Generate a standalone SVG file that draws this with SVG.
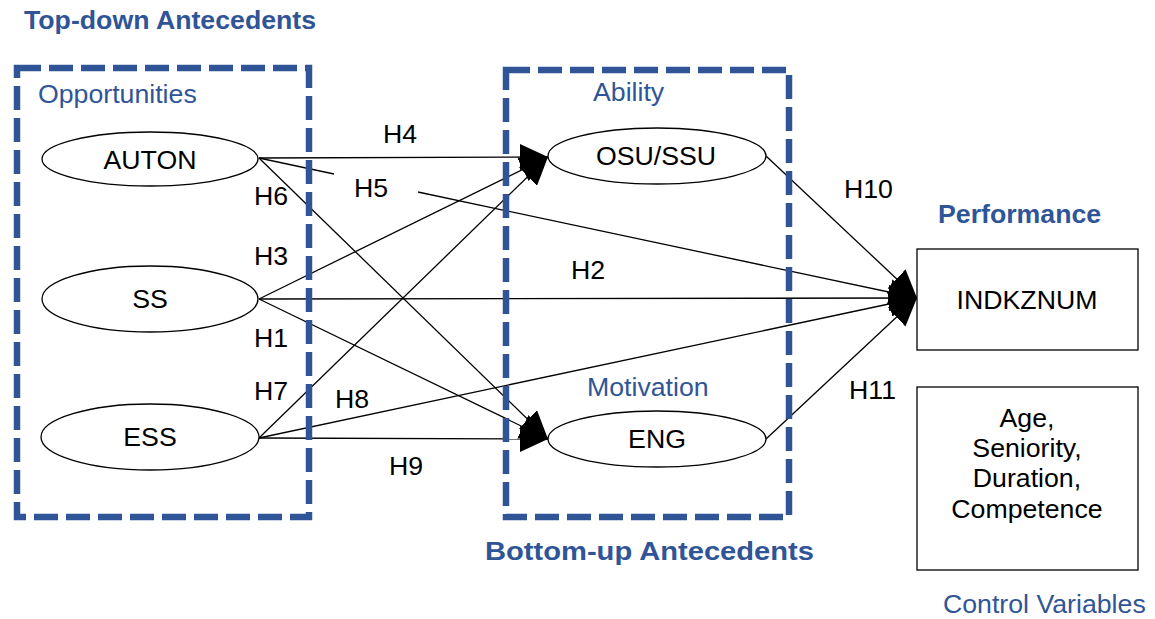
<svg xmlns="http://www.w3.org/2000/svg" width="1155" height="619" viewBox="0 0 1155 619">
  <style>
    text { font-family: "Liberation Sans", Arial, sans-serif; font-size: 26.7px; fill: #000; }
    .title { fill: #2F5597; font-weight: bold; }
    .group-label { fill: #2F5597; }
    .node-label { text-anchor: middle; }
    .frame { fill: none; stroke: #2F5597; stroke-width: 6.5; stroke-dasharray: 24 8; }
    .construct { fill: #fff; stroke: #000; stroke-width: 1.3; }
    .box { fill: #fff; stroke: #000; stroke-width: 1.3; }
    .link { fill: none; stroke: #000; stroke-width: 1.3; }
    .arrow { marker-end: url(#head); }
  </style>
  <defs>
    <marker id="head" viewBox="0 0 28 26" refX="28" refY="13" markerWidth="28" markerHeight="26" markerUnits="userSpaceOnUse" orient="auto">
      <path d="M0,0 L28,13 L0,26 z" fill="#000"/>
    </marker>
  </defs>

  <!-- Section headings -->
  <text class="title" x="24" y="29">Top-down Antecedents</text>
  <text class="title" x="485" y="560" textLength="329" lengthAdjust="spacingAndGlyphs">Bottom-up Antecedents</text>
  <text class="title" x="938" y="223">Performance</text>
  <text class="group-label" x="943" y="613">Control Variables</text>

  <!-- Hypothesised paths -->
  <g id="connectors">
    <line class="link arrow" x1="259" y1="158" x2="548" y2="157"/>
    <line class="link" x1="259" y1="158" x2="334" y2="174"/>
    <line class="link arrow" x1="418" y1="192" x2="917" y2="298"/>
    <line class="link arrow" x1="259" y1="158" x2="548" y2="439"/>
    <line class="link arrow" x1="259" y1="299" x2="548" y2="157"/>
    <line class="link arrow" x1="259" y1="299" x2="917" y2="298"/>
    <line class="link arrow" x1="259" y1="299" x2="548" y2="439"/>
    <line class="link arrow" x1="259" y1="438" x2="548" y2="157"/>
    <line class="link arrow" x1="259" y1="438" x2="917" y2="298"/>
    <line class="link arrow" x1="259" y1="438" x2="548" y2="439"/>
    <line class="link arrow" x1="766" y1="156" x2="917" y2="298"/>
    <line class="link arrow" x1="766" y1="439" x2="917" y2="298"/>
    <text x="383" y="143">H4</text>
    <text x="354" y="197">H5</text>
    <text x="254" y="205">H6</text>
    <text x="254" y="265">H3</text>
    <text x="571" y="279">H2</text>
    <text x="254" y="347">H1</text>
    <text x="254" y="400">H7</text>
    <text x="335" y="408">H8</text>
    <text x="389" y="475">H9</text>
    <text x="844" y="198">H10</text>
    <text x="849" y="399">H11</text>
  </g>

  <!-- Dashed grouping frames -->
  <g id="opportunities">
    <rect class="frame" x="17" y="68" width="292" height="449"/>
    <text class="group-label" x="38" y="103">Opportunities</text>
  </g>
  <g id="ability-motivation">
    <rect class="frame" x="506" y="70" width="283" height="447"/>
    <text class="group-label" x="593" y="101">Ability</text>
    <text class="group-label" x="587" y="396">Motivation</text>
  </g>

  <!-- Constructs -->
  <g id="auton">
    <ellipse class="construct" cx="150" cy="159" rx="108" ry="27"/>
    <text class="node-label" x="150" y="169">AUTON</text>
  </g>
  <g id="ss">
    <ellipse class="construct" cx="150" cy="299" rx="108" ry="33"/>
    <text class="node-label" x="150" y="308">SS</text>
  </g>
  <g id="ess">
    <ellipse class="construct" cx="150" cy="437" rx="109" ry="33"/>
    <text class="node-label" x="150" y="446">ESS</text>
  </g>
  <g id="osu-ssu">
    <ellipse class="construct" cx="657" cy="156" rx="109" ry="28"/>
    <text class="node-label" x="656" y="165">OSU/SSU</text>
  </g>
  <g id="eng">
    <ellipse class="construct" cx="657" cy="439" rx="109" ry="28"/>
    <text class="node-label" x="657" y="448">ENG</text>
  </g>
  <g id="indkznum">
    <rect class="box" x="917" y="249" width="221" height="101"/>
    <text class="node-label" x="1027" y="309">INDKZNUM</text>
  </g>
  <g id="controls">
    <rect class="box" x="917" y="387" width="221" height="183"/>
    <text class="node-label" x="1027" y="427">Age,</text>
    <text class="node-label" x="1027" y="457">Seniority,</text>
    <text class="node-label" x="1027" y="487">Duration,</text>
    <text class="node-label" x="1027" y="518">Competence</text>
  </g>
</svg>
